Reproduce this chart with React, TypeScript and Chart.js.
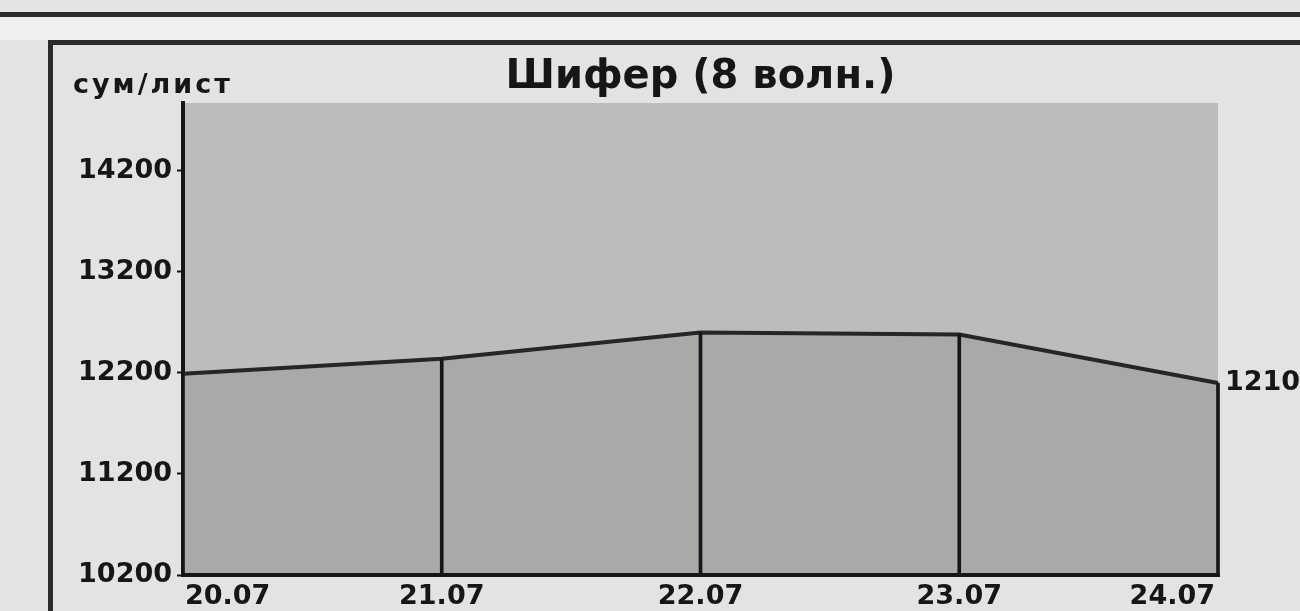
import React, { useEffect, useRef } from "react";
import { Chart, registerables } from "chart.js";

Chart.register(...registerables);

const dates = ["20.07", "21.07", "22.07", "23.07", "24.07"];
const prices = [12190, 12340, 12600, 12580, 12100];
const yTicks = [10200, 11200, 12200, 13200, 14200];
const yMin = 10200;
const yMax = 14870;
const unitLabel = "сум/лист";
const titleText = "Шифер (8 волн.)";
const lastValueLabel = "12100";

const FONT = "'DejaVu Sans', sans-serif";
const INK = "#161616";

export default function App() {
  const ref = useRef<HTMLCanvasElement | null>(null);

  useEffect(() => {
    if (!ref.current) return;
    const decor = {
      id: "decor",
      beforeDraw(chart: any) {
        const { ctx, chartArea } = chart;
        ctx.save();
        ctx.fillStyle = "#bcbcbc";
        ctx.fillRect(chartArea.left, chartArea.top, chartArea.right - chartArea.left, chartArea.bottom - chartArea.top);
        ctx.restore();
      },
      afterDatasetsDraw(chart: any) {
        const { ctx, chartArea } = chart;
        ctx.save();
        ctx.strokeStyle = INK;
        ctx.lineWidth = 4;
        ctx.beginPath();
        ctx.moveTo(chartArea.left - 2, chartArea.bottom);
        ctx.lineTo(chartArea.right + 2, chartArea.bottom);
        ctx.stroke();
        ctx.restore();
      },
      afterDraw(chart: any) {
        const { ctx, chartArea, scales } = chart;
        ctx.save();
        ctx.fillStyle = INK;
        // unit label
        ctx.font = `bold 27px ${FONT}`;
        (ctx as any).letterSpacing = "3px";
        ctx.textAlign = "left";
        ctx.textBaseline = "alphabetic";
        ctx.fillText(unitLabel, 73, 93);
        (ctx as any).letterSpacing = "0px";
        // title
        ctx.font = `bold 40px ${FONT}`;
        ctx.textAlign = "center";
        ctx.fillText(titleText, (chartArea.left + chartArea.right) / 2, 88);
        // x labels
        ctx.font = `bold 27px ${FONT}`;
        dates.forEach((d, i) => {
          const x = scales.x.getPixelForValue(i);
          if (i === 0) {
            ctx.textAlign = "left";
            ctx.fillText(d, x + 2, 604);
          } else if (i === dates.length - 1) {
            ctx.textAlign = "right";
            ctx.fillText(d, x - 3, 604);
          } else {
            ctx.textAlign = "center";
            ctx.fillText(d, x, 604);
          }
        });
        // last value label
        const last = prices[prices.length - 1];
        ctx.textAlign = "left";
        ctx.textBaseline = "middle";
        ctx.fillText(lastValueLabel, chartArea.right + 7, scales.y.getPixelForValue(last));
        ctx.restore();
      },
    };

    const chart = new Chart(ref.current, {
      type: "line",
      data: {
        labels: dates,
        datasets: [
          {
            type: "bar",
            data: prices,
            backgroundColor: INK,
            barThickness: 3,
            clip: { left: 3, right: 3, top: 0, bottom: 0 } as any,
            order: 0,
          } as any,
          {
            type: "line",
            data: prices,
            fill: "start",
            backgroundColor: "#a9aaa8",
            borderColor: "#262626",
            borderWidth: 4,
            pointRadius: 0,
            tension: 0,
            order: 1,
          },
        ],
      },
      options: {
        animation: false,
        responsive: false,
        maintainAspectRatio: false,
        layout: { padding: { top: 103, right: 82, left: 0, bottom: 0 } },
        plugins: {
          legend: { display: false },
          title: { display: false },
          tooltip: { enabled: false },
        },
        scales: {
          x: {
            type: "category",
            offset: false,
            z: 1,
            grid: { display: false },
            border: { display: true, color: INK, width: 4 },
            ticks: { display: false },
            afterFit(scale: any) {
              scale.height = 36;
            },
          },
          y: {
            min: yMin,
            max: yMax,
            z: 1,
            afterBuildTicks(scale: any) {
              scale.ticks = yTicks.map((v) => ({ value: v }));
            },
            grid: {
              display: true,
              drawOnChartArea: false,
              drawTicks: true,
              tickLength: 6,
              tickColor: INK,
              tickWidth: 2,
            },
            border: { display: true, color: INK, width: 4 },
            ticks: {
              color: INK,
              padding: 5,
              font: { family: FONT, size: 27, weight: "bold" },
              callback: (v: any) => String(v),
            },
            afterFit(scale: any) {
              scale.width = 183;
            },
          },
        },
      },
      plugins: [decor],
    });
    return () => chart.destroy();
  }, []);

  return (
    <div style={{ position: "absolute", left: 0, top: 0, width: 1300, height: 611, background: "#e3e3e3", overflow: "hidden" }}>
      <div style={{ position: "absolute", left: 0, top: 17, width: 1300, height: 23, background: "#efefef" }} />
      <div style={{ position: "absolute", left: 0, top: 12, width: 1300, height: 5, background: "#2b2b2b" }} />
      <div style={{ position: "absolute", left: 48, top: 40, width: 1252, height: 5, background: "#2b2b2b" }} />
      <div style={{ position: "absolute", left: 48, top: 40, width: 5, height: 571, background: "#2b2b2b" }} />
      <canvas ref={ref} width={1300} height={611} style={{ position: "absolute", left: 0, top: 0, width: 1300, height: 611 }} />
    </div>
  );
}
